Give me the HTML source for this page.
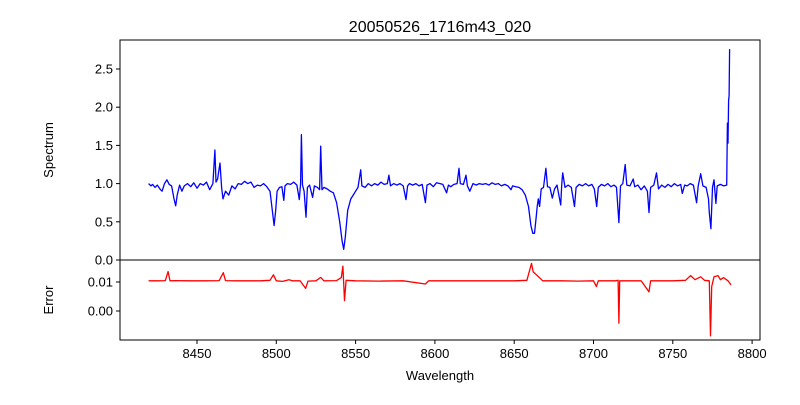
<!DOCTYPE html>
<html><head><meta charset="utf-8"><style>
body{margin:0;background:#fff}
svg text{font-family:"Liberation Sans","DejaVu Sans",sans-serif;fill:#000}
</style></head><body>
<svg id="chart" width="800" height="400" xmlns="http://www.w3.org/2000/svg">
<rect width="800" height="400" fill="#fff"/>
<text x="440" y="32" font-size="16" text-anchor="middle">20050526_1716m43_020</text>
<g id="topPanel"></g>
<g id="botPanel"></g>
<text x="440" y="380" font-size="13" text-anchor="middle">Wavelength</text>
<text transform="translate(53,150) rotate(-90)" font-size="13" text-anchor="middle">Spectrum</text>
<text transform="translate(53,300) rotate(-90)" font-size="13" text-anchor="middle">Error</text>
</svg>
<script>
const waves=[8419.5,8421,8422,8423.5,8425,8427,8428,8429.5,8431,8432.5,8434,8435.5,8436.6,8437.5,8439,8440.5,8442,8444,8446,8448,8450,8452,8454,8456,8458,8460,8461.3,8462,8463,8464.5,8465.5,8466.4,8468,8470,8472,8474,8476,8478,8480,8482,8484,8486,8488,8490,8492,8494,8496,8497.5,8498.6,8499.6,8500.5,8502,8503.5,8504.7,8505.5,8507,8509,8511,8513,8514.5,8515.3,8515.8,8516.5,8517.5,8518.7,8519.6,8521,8522.9,8524,8526,8527.3,8528,8528.8,8530,8532,8534,8536,8538,8540,8541.5,8542.5,8543.5,8545,8547,8548.5,8550,8551.5,8553.2,8554,8556,8558,8560,8562,8564,8566,8568,8570,8571,8572,8574,8576,8578,8580,8581.8,8582.8,8584,8586,8588,8590,8592,8594,8595,8597,8599,8601,8603.2,8605,8607.4,8608.5,8610,8612,8614,8615.2,8616,8618,8619.6,8620.5,8622,8624,8626,8628,8630,8632,8634,8636,8638,8640,8642,8644,8646,8648,8649,8651,8653,8655,8657,8659,8660.5,8661.7,8662.8,8663.8,8664.5,8665.2,8666,8667,8668.5,8670,8671,8672.5,8674,8675.5,8677,8679.3,8680,8680.6,8682,8684,8686,8688,8689,8691,8693,8695,8697,8699,8700.5,8702,8703,8705,8707,8709,8711,8713,8714.5,8716,8717,8718.5,8720,8721,8723,8725,8726,8728,8730,8732,8734,8735,8736,8738,8739.7,8741,8743,8745,8747,8749,8751,8753,8755,8756,8757.5,8759,8761,8763,8765,8766,8767.6,8769,8771,8772.5,8773,8774,8775,8776,8777.2,8778,8780,8782,8784,8784.4,8784.8,8785.2,8785.5,8785.8];
const flux=[1.0,0.97,0.99,0.95,0.98,0.92,0.90,1.0,1.05,0.99,0.97,0.80,0.71,0.85,0.98,0.90,0.97,1.0,0.96,1.01,0.94,1.0,0.98,1.02,0.92,1.0,1.44,1.02,1.06,1.27,0.95,0.80,0.90,0.85,0.97,0.93,1.0,0.99,1.03,1.0,1.02,0.95,0.98,0.97,1.0,0.96,0.90,0.65,0.45,0.65,0.90,0.95,0.96,0.78,0.97,1.0,0.99,1.02,0.98,0.79,1.0,1.64,0.98,0.90,0.56,0.95,0.98,0.82,0.97,0.95,0.92,1.49,0.92,0.95,0.93,0.90,0.88,0.75,0.5,0.25,0.14,0.30,0.65,0.80,0.85,0.90,0.95,1.18,0.97,0.95,1.0,0.97,1.0,0.98,1.02,0.99,1.0,1.11,0.97,1.0,0.98,1.0,0.97,0.79,0.97,1.0,0.98,1.0,0.97,0.99,0.75,0.98,1.0,0.96,1.01,1.0,0.99,0.88,0.98,0.96,0.99,1.0,1.20,1.0,0.99,1.11,0.97,0.90,1.0,0.98,1.0,0.99,1.0,0.98,1.01,0.99,1.0,0.97,0.99,0.97,0.92,0.97,0.96,0.95,0.92,0.85,0.70,0.45,0.35,0.35,0.55,0.70,0.80,0.70,0.93,0.95,1.20,0.96,0.95,0.81,0.93,0.98,0.72,1.0,1.14,0.95,0.98,0.95,0.70,0.95,0.99,0.97,1.0,0.97,0.99,0.93,0.70,0.95,0.99,0.97,1.0,0.96,0.98,0.95,0.49,0.97,1.0,1.25,0.98,0.97,1.06,0.96,0.98,0.92,0.97,0.90,0.62,0.95,0.98,1.14,0.93,0.98,0.95,0.99,0.96,1.0,0.97,0.99,0.87,0.98,0.97,1.0,0.98,0.75,0.97,1.13,0.97,0.95,0.80,0.62,0.41,0.95,1.05,0.74,0.97,0.99,0.97,0.98,1.79,1.53,2.09,2.15,2.76];
const errWaves=[8419.5,8425,8430,8431.8,8433,8436,8445,8455,8464,8466.6,8468,8475,8490,8496,8498.2,8500,8504,8508,8510,8515,8518.5,8520,8525,8528,8530,8538,8541,8542,8543,8544,8550,8565,8580,8594,8596,8610,8630,8650,8658,8660.9,8662,8664,8668,8680,8690,8700,8701.8,8703,8714,8715.5,8716,8716.5,8718,8730,8735,8736,8750,8758,8761.2,8764,8767.6,8770,8773,8773.8,8774.5,8776,8778.5,8780,8782,8784.8,8786.7];
const errVals=[0.0104,0.0104,0.0105,0.0136,0.0104,0.0105,0.0104,0.0104,0.0105,0.0132,0.0105,0.0104,0.0104,0.0106,0.0125,0.0104,0.0102,0.0108,0.0104,0.0104,0.0078,0.0103,0.0104,0.0116,0.0104,0.0105,0.0115,0.0155,0.0036,0.0106,0.0104,0.0103,0.0104,0.0093,0.0104,0.0104,0.0104,0.0104,0.0106,0.0164,0.0135,0.0125,0.0104,0.0104,0.0103,0.0104,0.0084,0.0104,0.0104,0.0106,-0.0042,0.0104,0.0104,0.0104,0.0066,0.0104,0.0104,0.0106,0.0122,0.0108,0.0118,0.0106,0.0104,-0.0086,0.0084,0.0118,0.0122,0.0108,0.0115,0.0104,0.0090];
const xTicks=[8450,8500,8550,8600,8650,8700,8750,8800];
const yTicksTop=[0.0,0.5,1.0,1.5,2.0,2.5];
const yTicksBot=[0.00,0.01];

const NS="http://www.w3.org/2000/svg";
const L=120,R=760,T1=40,B1=260,B2=340;
function xs(w){return 117.7+(w-8400)*1.586;}
function ysTop(v){return 260-v*76.4;}
function ysBot(v){return 311-v*2900;}
function mk(tag,attrs,parent){const e=document.createElementNS(NS,tag);for(const k in attrs)e.setAttribute(k,attrs[k]);parent.appendChild(e);return e;}
const topG=document.getElementById('topPanel'),botG=document.getElementById('botPanel');

function path(ws,vs,ys,col,parent,name){
  let d='';ws.forEach((w,i)=>{d+=(i?'L':'M')+xs(w).toFixed(1)+','+ys(vs[i]).toFixed(1);});
  const p=mk('path',{d:d,fill:'none',stroke:col,'stroke-width':1.3,'stroke-linejoin':'round'},parent);
  
  
}
path(waves,flux,ysTop,'#0000ff',topG,'spectrum-line');
path(errWaves,errVals,ysBot,'#ff0000',botG,'error-line');

const f1=mk('rect',{x:L,y:T1,width:R-L,height:B1-T1,fill:'none',stroke:'#000','stroke-width':1},topG);


const f2=mk('rect',{x:L,y:B1,width:R-L,height:B2-B1,fill:'none',stroke:'#000','stroke-width':1},botG);



yTicksTop.forEach(v=>{
  const y=ysTop(v);
  mk('line',{x1:L-4,x2:L,y1:y,y2:y,stroke:'#000'},topG);
  const t=mk('text',{x:L-7,y:y+4.5,'font-size':13,'text-anchor':'end'},topG);
  t.textContent=v.toFixed(1);
  
  
});
yTicksBot.forEach(v=>{
  const y=ysBot(v);
  mk('line',{x1:L-4,x2:L,y1:y,y2:y,stroke:'#000'},botG);
  const t=mk('text',{x:L-7,y:y+4.5,'font-size':13,'text-anchor':'end'},botG);
  t.textContent=v.toFixed(2);
  
  
});
xTicks.forEach(v=>{
  const x=xs(v);
  mk('line',{x1:x,x2:x,y1:B2,y2:B2+4,stroke:'#000'},botG);
  const t=mk('text',{x:x,y:B2+18,'font-size':13,'text-anchor':'middle'},botG);
  t.textContent=v;
  
  
});
</script>
</body></html>
